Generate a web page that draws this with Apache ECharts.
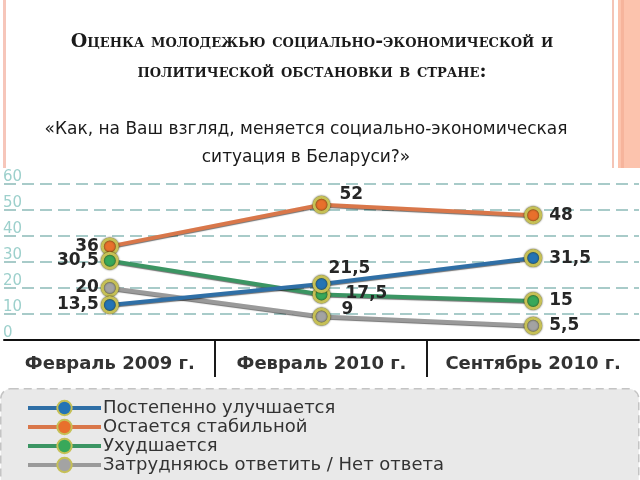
<!DOCTYPE html>
<html><head><meta charset="utf-8">
<script src="https://cdn.jsdelivr.net/npm/echarts@6/dist/echarts.min.js"></script>
<style>html,body{margin:0;padding:0;background:#fff}#c{width:640px;height:480px}</style>
</head><body><div id="c"></div>
<script>
const titleText = 'Оценка молодежью социально-экономической и\nполитической обстановки в стране:';
const subtitleText = '«Как, на Ваш взгляд, меняется социально-экономическая\nситуация в Беларуси?»';
const categories = ['Февраль 2009 г.', 'Февраль 2010 г.', 'Сентябрь 2010 г.'];
const seriesNames = ['Постепенно улучшается', 'Остается стабильной', 'Ухудшается', 'Затрудняюсь ответить / Нет ответа'];
const improving = [13.5, 21.5, 31.5];
const stable = [36, 52, 48];
const worsening = [30.5, 17.5, 15];
const noAnswer = [20, 9, 5.5];
const yMin = 0, yMax = 60, yStep = 10;

const values = [improving, stable, worsening, noAnswer];
const fills = ['#2474b5', '#e8702c', '#38a85a', '#a3a3a3'];
const lines = ['#2f6fa6', '#d9774a', '#3b9563', '#9a9a9a'];
const midOffsets = [[-7, -16], [4, -10], [10, -1], [6, -7]];
const zs = [5, 3, 4, 2];

const fmt = v => String(v).replace('.', ',');
const labelFont = {fontFamily: 'DejaVu Sans', fontWeight: 'bold', fontSize: 17, color: '#262626'};

const series = values.map((arr, s) => ({
  name: seriesNames[s],
  type: 'line',
  z: zs[s],
  symbol: 'circle',
  symbolSize: 15,
  lineStyle: {color: lines[s], width: 4, shadowColor: 'rgba(0,0,0,0.55)', shadowBlur: 1, shadowOffsetY: 1},
  itemStyle: {color: fills[s], borderColor: '#c6c056', borderWidth: 3, shadowColor: 'rgba(40,40,0,0.95)', shadowBlur: 2},
  emphasis: {disabled: true},
  data: arr.map((v, i) => {
    let label;
    if (i === 0) label = {position: 'left', distance: 2};
    else if (i === arr.length - 1) label = {position: 'right', distance: 7};
    else label = {position: 'right', distance: 5, offset: midOffsets[s]};
    return {value: v, label: label};
  }),
  label: Object.assign({show: true, formatter: p => fmt(p.value)}, labelFont)
}));

const chart = echarts.init(document.getElementById('c'), null, {renderer: 'canvas'});
chart.setOption({
  backgroundColor: '#ffffff',
  animation: false,
  title: [{
    text: titleText, left: 312, top: 27, textAlign: 'center', padding: 0,
    textStyle: {fontFamily: 'DejaVu Serif', fontWeight: 'bold', fontStyle: 'small-caps', fontSize: 19, lineHeight: 30, color: '#1a1a1a'}
  }, {
    text: subtitleText, left: 306, top: 116, textAlign: 'center', padding: 0,
    textStyle: {fontFamily: 'DejaVu Sans', fontWeight: 'normal', fontSize: 17, lineHeight: 28, color: '#1a1a1a'}
  }],
  graphic: [
    {type: 'rect', left: 3, top: 0, shape: {width: 3, height: 168}, style: {fill: '#f6c6ba'}, z: -1},
    {type: 'rect', left: 612, top: 0, shape: {width: 2, height: 168}, style: {fill: '#f4c4b6'}, z: -1},
    {type: 'rect', left: 618, top: 0, shape: {width: 22, height: 168}, style: {fill: '#fcc3ad'}, z: -1},
    {type: 'rect', left: 621, top: 0, shape: {width: 3, height: 168}, style: {fill: '#f6b49c'}, z: -1},
    {type: 'rect', left: 0, top: 388, shape: {width: 638, height: 100, r: 10}, style: {fill: '#e9e9e9', stroke: '#c4c4c4', lineWidth: 1.5, lineDash: [8, 5]}, z: -1}
  ],
  legend: {
    orient: 'vertical', left: 26, top: 399, padding: 0,
    itemWidth: 73, itemHeight: 18, itemGap: 1,
    data: seriesNames,
    lineStyle: {width: 4},
    textStyle: {fontFamily: 'DejaVu Sans', fontSize: 18, color: '#333', padding: [0, 0, 0, -3]},
    selectedMode: false
  },
  grid: [
    {left: 2, right: 1, top: 184, bottom: 140},
    {left: 2, right: 1, top: 340, height: 37}
  ],
  xAxis: [{
    type: 'category', gridIndex: 0, data: categories, boundaryGap: true,
    axisLine: {lineStyle: {color: '#111', width: 2}},
    axisTick: {show: false},
    axisLabel: {interval: 0, hideOverlap: false, margin: 15, fontFamily: 'DejaVu Sans', fontWeight: 'bold', fontSize: 18, color: '#333'},
    z: 6
  }, {
    type: 'category', gridIndex: 1, data: categories, boundaryGap: true,
    axisLine: {show: false}, axisTick: {show: false}, axisLabel: {show: false},
    splitLine: {show: true, showMinLine: false, showMaxLine: false, lineStyle: {color: '#1a1a1a', width: 2}}
  }],
  yAxis: [{
    type: 'value', gridIndex: 0, min: yMin, max: yMax, interval: yStep,
    axisLine: {show: false}, axisTick: {show: false},
    axisLabel: {inside: true, margin: -1, verticalAlign: 'bottom', lineHeight: 14, fontFamily: 'DejaVu Sans', fontSize: 15, color: '#9dd0cc'},
    splitLine: {lineStyle: {color: '#a8cbc9', width: 2, type: [12, 6]}}
  }, {
    type: 'value', gridIndex: 1, show: false
  }],
  series: series
});
</script></body></html>
